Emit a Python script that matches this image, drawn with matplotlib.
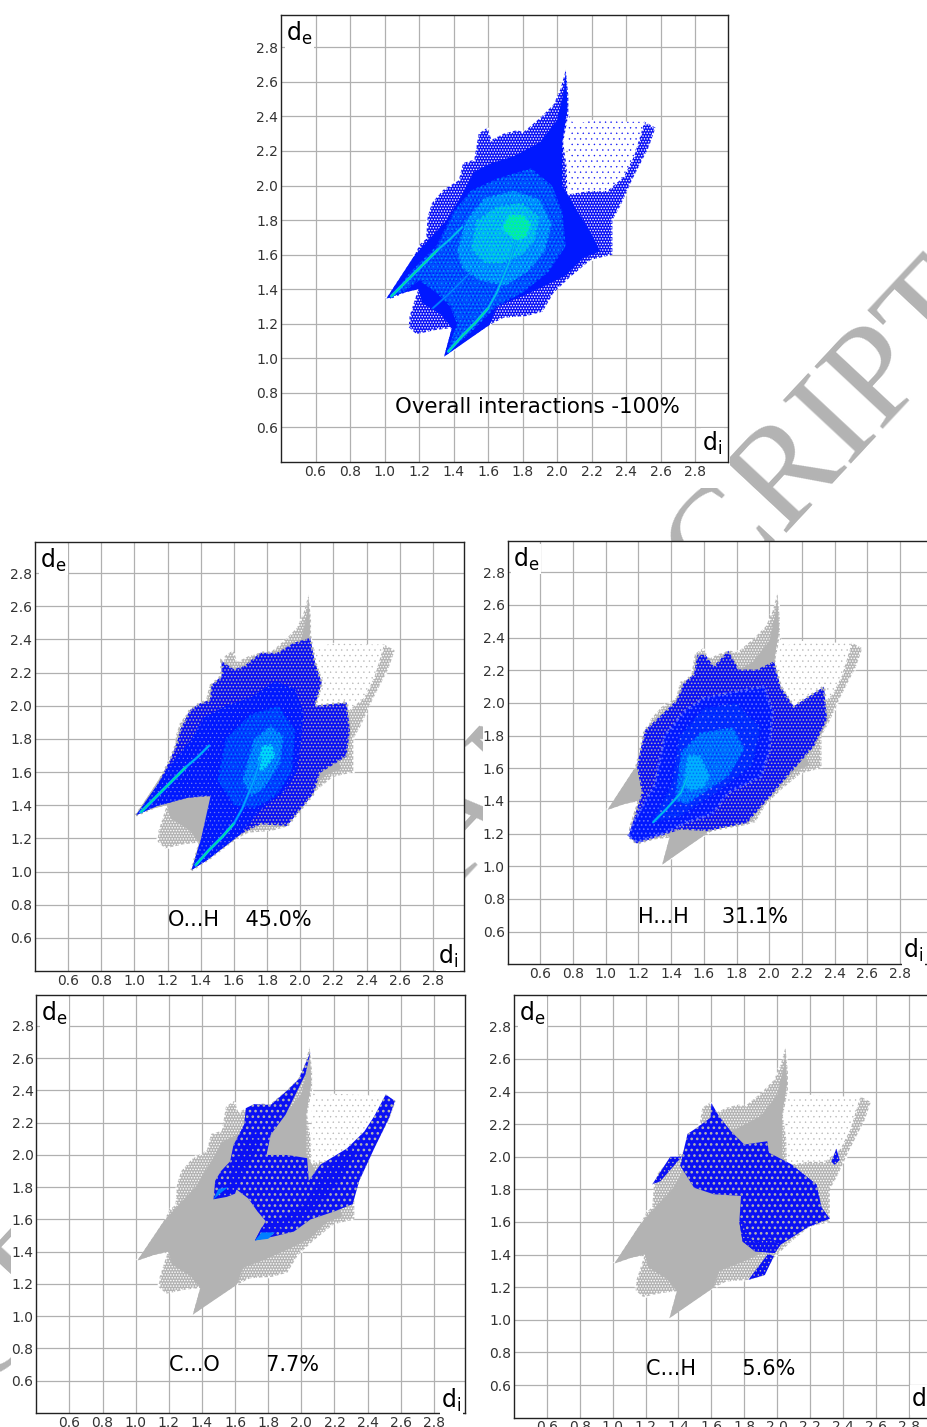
import matplotlib
matplotlib.use('Agg')
import matplotlib.pyplot as plt
from matplotlib.patches import Polygon, Rectangle

plt.rcParams['mathtext.fontset'] = 'dejavusans'
plt.rcParams['hatch.linewidth'] = 0.7

W, H = 928, 1427
GRAY = '#b3b3b3'
BLUE = '#0a10f5'

# -----------------------------
# Data: outlines (di, de)
# -----------------------------
ticks = [0.6, 0.8, 1.0, 1.2, 1.4, 1.6, 1.8, 2.0, 2.2, 2.4, 2.6, 2.8]

# whole fingerprint
env_di = [1.01, 1.17, 1.205, 1.24, 1.25, 1.275, 1.34, 1.43, 1.455, 1.52, 1.545, 1.595, 1.62, 1.69, 1.765, 1.805,
          1.90, 1.98, 2.02, 2.05, 2.065, 2.065, 2.035, 2.055, 2.06, 2.19, 2.29, 2.385, 2.445, 2.505, 2.57, 2.53,
          2.435, 2.365, 2.32, 2.32, 2.195, 2.08, 1.98, 1.915, 1.825, 1.69, 1.61, 1.455, 1.345, 1.39, 1.30, 1.185,
          1.14, 1.145, 1.195, 1.11]
env_de = [1.345, 1.59, 1.66, 1.69, 1.82, 1.90, 1.975, 2.03, 2.13, 2.15, 2.30, 2.335, 2.265, 2.30, 2.32, 2.31,
          2.39, 2.47, 2.56, 2.67, 2.52, 2.41, 2.25, 2.11, 1.95, 1.97, 1.97, 2.05, 2.17, 2.37, 2.335, 2.22,
          2.035, 1.88, 1.80, 1.60, 1.57, 1.475, 1.38, 1.27, 1.245, 1.235, 1.195, 1.09, 1.01, 1.175, 1.165, 1.14,
          1.18, 1.245, 1.40, 1.38]
core_di = [1.01, 1.17, 1.25, 1.36, 1.45, 1.52, 1.62, 1.75, 1.9, 2.0, 2.04, 2.05, 2.06, 2.03, 2.03, 2.1, 2.2,
           2.25, 2.15, 2.05, 1.93, 1.8, 1.65, 1.61, 1.345, 1.39, 1.33, 1.22, 1.195, 1.11]
core_de = [1.345, 1.59, 1.68, 1.80, 1.95, 2.08, 2.13, 2.17, 2.25, 2.38, 2.55, 2.67, 2.45, 2.25, 2.0, 1.88, 1.72,
           1.62, 1.58, 1.48, 1.42, 1.36, 1.30, 1.195, 1.01, 1.175, 1.25, 1.32, 1.40, 1.38]
# sparse part top right
gap_di = [2.065, 2.10, 2.2, 2.4, 2.505, 2.445, 2.385, 2.29, 2.19, 2.06]
gap_de = [2.41, 2.35, 2.38, 2.37, 2.37, 2.17, 2.05, 1.97, 1.97, 1.95]

# overall density levels
all_mid_di = [1.03, 1.15, 1.3, 1.4, 1.5, 1.65, 1.85, 1.97, 2.03, 2.05, 1.95, 1.8, 1.65, 1.5, 1.36, 1.42, 1.38, 1.3, 1.2, 1.12]
all_mid_de = [1.35, 1.5, 1.65, 1.85, 1.97, 2.04, 2.1, 2.0, 1.85, 1.65, 1.5, 1.38, 1.3, 1.15, 1.03, 1.2, 1.3, 1.38, 1.45, 1.39]
all_az_di = [1.42, 1.47, 1.58, 1.75, 1.9, 1.97, 1.93, 1.83, 1.7, 1.55, 1.45]
all_az_de = [1.62, 1.8, 1.93, 1.97, 1.92, 1.78, 1.62, 1.5, 1.42, 1.45, 1.52]
all_cy_di = [1.5, 1.53, 1.65, 1.8, 1.9, 1.87, 1.8, 1.68, 1.58]
all_cy_de = [1.63, 1.8, 1.88, 1.9, 1.82, 1.68, 1.6, 1.55, 1.55]
all_gr_di = [1.68, 1.72, 1.8, 1.85, 1.82, 1.76]
all_gr_de = [1.75, 1.83, 1.83, 1.78, 1.7, 1.68]

# sharp wings
wing1_di = [1.04, 1.12, 1.22, 1.31]
wing1_de = [1.36, 1.44, 1.54, 1.63]
wing1b_di = [1.31, 1.38, 1.45]
wing1b_de = [1.63, 1.69, 1.76]
wing2_di = [1.37, 1.45, 1.53, 1.6]
wing2_de = [1.04, 1.13, 1.21, 1.29]
wing2b_di = [1.6, 1.65, 1.72, 1.76]
wing2b_de = [1.29, 1.38, 1.55, 1.68]
wing3_di = [1.28, 1.38, 1.5]
wing3_de = [1.29, 1.38, 1.5]

# O...H
oh_di = [1.01, 1.135, 1.215, 1.255, 1.275, 1.335, 1.395, 1.455, 1.465, 1.525, 1.525, 1.6, 1.66, 1.76, 1.86, 1.96,
         2.06, 2.09, 2.13, 2.09, 2.28, 2.3, 2.28, 2.12, 2.08, 1.92, 1.76, 1.64, 1.44, 1.345, 1.40, 1.47, 1.32, 1.135]
oh_de = [1.34, 1.515, 1.675, 1.775, 1.855, 1.975, 2.015, 2.035, 2.125, 2.18, 2.27, 2.22, 2.24, 2.32, 2.32, 2.38,
         2.41, 2.26, 2.14, 2.0, 2.02, 1.855, 1.695, 1.595, 1.47, 1.275, 1.285, 1.225, 1.07, 1.01, 1.19, 1.455, 1.445, 1.395]
oh_core_di = [1.01, 1.135, 1.22, 1.33, 1.42, 1.55, 1.7, 1.85, 1.97, 2.02, 2.0, 1.98, 1.9, 1.82, 1.75, 1.64, 1.44, 1.345, 1.40, 1.46, 1.32, 1.135]
oh_core_de = [1.34, 1.52, 1.65, 1.78, 1.93, 2.0, 2.05, 2.15, 2.1, 1.95, 1.75, 1.6, 1.48, 1.42, 1.36, 1.225, 1.07, 1.01, 1.19, 1.46, 1.445, 1.395]
oh_mid_di = [1.5, 1.55, 1.7, 1.87, 1.97, 1.95, 1.85, 1.72, 1.6]
oh_mid_de = [1.55, 1.8, 1.95, 2.0, 1.85, 1.6, 1.45, 1.38, 1.4]
oh_az_di = [1.65, 1.72, 1.82, 1.9, 1.88, 1.78, 1.7]
oh_az_de = [1.55, 1.8, 1.88, 1.82, 1.65, 1.5, 1.45]
oh_cy_di = [1.74, 1.77, 1.83, 1.85, 1.8, 1.76]
oh_cy_de = [1.66, 1.76, 1.77, 1.7, 1.63, 1.6]

# H...H
hh_di = [1.14, 1.17, 1.22, 1.19, 1.24, 1.375, 1.435, 1.475, 1.54, 1.56, 1.61, 1.66, 1.75, 1.815, 1.925, 2.03, 2.07,
         2.15, 2.335, 2.355, 2.275, 2.13, 2.01, 1.865, 1.62, 1.455, 1.335, 1.19]
hh_de = [1.185, 1.285, 1.45, 1.615, 1.835, 1.96, 2.02, 2.12, 2.18, 2.295, 2.295, 2.225, 2.32, 2.205, 2.205, 2.255, 2.10,
         1.98, 2.1, 1.90, 1.735, 1.57, 1.43, 1.265, 1.215, 1.225, 1.185, 1.14]
hh_core_di = [1.14, 1.18, 1.3, 1.36, 1.48, 1.6, 1.8, 1.97, 2.02, 2.0, 1.95, 1.75, 1.65, 1.5, 1.35, 1.19]
hh_core_de = [1.185, 1.29, 1.5, 1.8, 1.95, 2.03, 2.07, 2.1, 1.95, 1.7, 1.55, 1.45, 1.32, 1.27, 1.2, 1.15]
hh_mid_di = [1.28, 1.4, 1.45, 1.6, 1.8, 1.95, 1.9, 1.75, 1.6, 1.45]
hh_mid_de = [1.27, 1.5, 1.8, 1.97, 2.0, 1.85, 1.62, 1.5, 1.4, 1.3]
hh_az_di = [1.42, 1.46, 1.58, 1.78, 1.85, 1.75, 1.6, 1.5]
hh_az_de = [1.4, 1.7, 1.82, 1.85, 1.72, 1.55, 1.45, 1.38]
hh_cy_di = [1.47, 1.5, 1.58, 1.64, 1.6, 1.52]
hh_cy_de = [1.5, 1.68, 1.68, 1.55, 1.48, 1.46]
hh_wing_di = [1.29, 1.37, 1.46, 1.5]
hh_wing_de = [1.27, 1.35, 1.45, 1.55]

# C...O
co_di = [1.47, 1.48, 1.515, 1.57, 1.59, 1.655, 1.665, 1.715, 1.815, 1.915, 1.985, 2.055, 2.025, 1.955, 1.905, 1.815,
         1.79, 1.915, 2.035, 2.045, 2.115, 2.275, 2.38, 2.44, 2.51, 2.565, 2.53, 2.44, 2.35, 2.31, 2.2, 2.055, 1.955,
         1.835, 1.72, 1.785, 1.735, 1.68, 1.61, 1.55]
co_de = [1.725, 1.84, 1.90, 1.96, 2.06, 2.19, 2.29, 2.315, 2.31, 2.40, 2.47, 2.635, 2.50, 2.355, 2.25, 2.125,
         2.0, 2.0, 1.98, 1.84, 1.94, 2.04, 2.145, 2.24, 2.375, 2.335, 2.23, 2.04, 1.84, 1.695, 1.65, 1.6, 1.525,
         1.495, 1.47, 1.59, 1.65, 1.73, 1.785, 1.765]
co_arm_di = [1.47, 1.55, 1.59, 1.66, 1.72, 1.75, 1.72, 1.66, 1.62, 1.6, 1.55]
co_arm_de = [1.725, 1.8, 1.95, 2.08, 2.16, 2.1, 2.0, 1.92, 1.82, 1.76, 1.74]
co_band_di = [1.72, 1.85, 2.05, 2.2, 2.33, 2.3, 2.15, 2.07, 2.0, 1.9, 1.8, 1.76]
co_band_de = [1.47, 1.53, 1.63, 1.8, 2.0, 2.05, 1.93, 1.78, 1.68, 1.62, 1.58, 1.55]
co_tip1_di = [1.47, 1.52, 1.56, 1.50]
co_tip1_de = [1.725, 1.77, 1.80, 1.79]
co_tip2_di = [1.72, 1.80, 1.84, 1.76]
co_tip2_de = [1.47, 1.48, 1.52, 1.52]

# C...H
ch_di = [1.41, 1.455, 1.515, 1.595, 1.6, 1.645, 1.72, 1.8, 1.94, 1.95, 2.085, 2.24, 2.27, 2.32, 2.19, 2.02, 1.985,
         1.865, 1.79, 1.77, 1.78, 1.615, 1.495]
ch_de = [1.945, 2.14, 2.18, 2.24, 2.33, 2.25, 2.155, 2.075, 2.095, 2.025, 1.955, 1.83, 1.69, 1.62, 1.57, 1.46, 1.41,
         1.42, 1.48, 1.6, 1.76, 1.77, 1.81]
ch_s1_di = [1.24, 1.35, 1.42, 1.29]
ch_s1_de = [1.83, 2.0, 2.0, 1.85]
ch_s2_di = [1.825, 1.945, 1.98, 1.925]
ch_s2_de = [1.245, 1.405, 1.39, 1.275]
ch_s3_di = [2.33, 2.36, 2.38, 2.35]
ch_s3_de = [1.97, 2.05, 1.98, 1.95]
ch_rim_di = [1.77, 1.79, 1.865, 1.985, 2.02, 1.95, 1.87, 1.82, 1.8]
ch_rim_de = [1.6, 1.48, 1.42, 1.41, 1.46, 1.5, 1.47, 1.52, 1.6]

# panel boxes in pixels: left, top, right, bottom
box_all = (281, 14.5, 728, 462)
box_oh = (35, 541.7, 464.4, 971)
box_hh = (507.7, 541.3, 931, 964.3)
box_co = (36.3, 995.3, 465.3, 1413)
box_ch = (514, 995.3, 940, 1417.7)

fig = plt.figure(figsize=(W / 100, H / 100), dpi=100, facecolor='white')

# -----------------------------
# Watermark behind the panels
# -----------------------------
fig.text(993 / W, 1 - 312 / H, 'ACCEPTED MANUSCRIPT', rotation=47, rotation_mode='anchor',
         ha='right', va='baseline', family='Liberation Serif', fontsize=102, color=GRAY, zorder=-3)

# white backing of each pasted panel
for x0, y0, x1, y1 in [(250, 0, 730, 488), (0, 541, 465, 995), (483, 541, 928, 995),
                       (11, 995, 466, 1427), (490, 995, 928, 1427)]:
    fig.add_artist(Rectangle((x0 / W, 1 - y1 / H), (x1 - x0) / W, (y1 - y0) / H, transform=fig.transFigure,
                             facecolor='white', edgecolor='none', zorder=-2))


def make_axes(box, label, lx, ly, di_x, di_y, size=15):
    l, t, r, b = box
    ax = fig.add_axes([l / W, 1 - b / H, (r - l) / W, (b - t) / H])
    ax.set_xlim(0.4, 2.99)
    ax.set_ylim(0.4, 2.99)
    ax.set_xticks(ticks)
    ax.set_yticks(ticks)
    ax.set_xticklabels(['%.1f' % t_ for t_ in ticks])
    ax.set_yticklabels(['%.1f' % t_ for t_ in ticks])
    ax.tick_params(length=0, labelsize=10, labelcolor='#333333', pad=2)
    ax.grid(True, color='#b0b0b0', lw=0.9)
    ax.set_axisbelow(True)
    for s in ax.spines.values():
        s.set_linewidth(1.0)
        s.set_color('#222222')
    ax.text(lx, ly, label, fontsize=size, color='black', va='center', ha='left')
    ax.text(0.43, 2.88, r'd$_{\mathrm{e}}$', fontsize=17, va='center', ha='left',
            bbox=dict(facecolor='white', edgecolor='none', pad=1))
    ax.text(di_x, di_y, r'd$_{\mathrm{i}}$', fontsize=17, va='center', ha='left',
            bbox=dict(facecolor='white', edgecolor='none', pad=1))
    return ax


def fill(ax, di, de, face, dots=None, pattern='.....', z=2):
    pts = list(zip(di, de))
    ax.add_patch(Polygon(pts, closed=True, facecolor=face, edgecolor='none', lw=0, zorder=z))
    if dots:
        # dotted edge nibbles the outline so it does not look cut with scissors
        ax.add_patch(Polygon(pts, closed=True, fill=False, edgecolor=dots, hatch=pattern,
                             lw=2.0, linestyle=(0, (0.7, 1.3)), zorder=z))


def speck(ax, di, de, color, pattern='....', z=5, dot_lw=0.7):
    p = Polygon(list(zip(di, de)), closed=True, fill=False, edgecolor=color, hatch=pattern, lw=0, zorder=z)
    p.set_hatch_linewidth(dot_lw)
    ax.add_patch(p)


def sparse(ax, color, z):
    pts = list(zip(gap_di, gap_de))
    ax.add_patch(Polygon(pts, closed=True, facecolor='white', edgecolor='none', zorder=z))
    speck(ax, gap_di, gap_de, color, '...', z, 0.25)


def gray_base(ax):
    fill(ax, env_di, env_de, GRAY, 'white', '......', 2)
    fill(ax, core_di, core_de, GRAY, z=2)
    sparse(ax, GRAY, 2)


def streak(ax, di, de, lw=2.2, outer='#00b0ff', inner='#00e890'):
    ax.plot(di, de, color=outer, lw=lw, solid_capstyle='round', zorder=6)
    ax.plot(di, de, color=inner, lw=lw * 0.4, solid_capstyle='round', zorder=7)


# -----------------------------
# Overall
# -----------------------------
ax = make_axes(box_all, 'Overall interactions -100%', 1.06, 0.72, 2.84, 0.51, 15.4)
fill(ax, env_di, env_de, BLUE, 'white', '......', 2)
fill(ax, core_di, core_de, '#0018ff', z=3)
sparse(ax, BLUE, 3)
fill(ax, all_mid_di, all_mid_de, '#0050ff', '#0018ff', '.....', 4)
speck(ax, all_mid_di, all_mid_de, '#0090ff', '....', 4)
fill(ax, all_az_di, all_az_de, '#0090ff', '#0050ff', '.....', 5)
speck(ax, all_az_di, all_az_de, '#00c8f8', '....', 5)
fill(ax, all_cy_di, all_cy_de, '#00b8f8', '#0080ff', '.....', 5)
speck(ax, all_cy_di, all_cy_de, '#00e8c0', '....', 5)
fill(ax, all_gr_di, all_gr_de, '#00f0a0', '#00c8f8', '.....', 5)
streak(ax, wing1_di, wing1_de)
streak(ax, wing1b_di, wing1b_de, 1.8, '#0090ff', '#00d0e0')
streak(ax, wing2_di, wing2_de)
streak(ax, wing2b_di, wing2b_de, 1.8, '#0090ff', '#00d0e0')
streak(ax, wing3_di, wing3_de, 1.6, '#0060ff', '#0090ff')

# -----------------------------
# O...H
# -----------------------------
ax = make_axes(box_oh, 'O...H    45.0%', 1.2, 0.708, 2.83, 0.49)
gray_base(ax)
fill(ax, oh_di, oh_de, BLUE, GRAY, '.....', 3)
fill(ax, oh_core_di, oh_core_de, '#0018ff', z=3)
speck(ax, oh_core_di, oh_core_de, '#7080f0', '....', 3, 0.4)
fill(ax, oh_mid_di, oh_mid_de, '#0040ff', '#0018ff', '.....', 4)
speck(ax, oh_mid_di, oh_mid_de, '#0080ff', '....', 4)
fill(ax, oh_az_di, oh_az_de, '#0080ff', '#0040ff', '.....', 5)
speck(ax, oh_az_di, oh_az_de, '#00b0ff', '....', 5)
fill(ax, oh_cy_di, oh_cy_de, '#00d8f8', '#0080ff', '.....', 5)
streak(ax, wing1_di, wing1_de)
streak(ax, wing1b_di, wing1b_de, 1.8, '#0090ff', '#00c0f0')
streak(ax, wing2_di, wing2_de)
streak(ax, wing2b_di, wing2b_de, 1.8, '#0080ff', '#00b0ff')

# -----------------------------
# H...H
# -----------------------------
ax = make_axes(box_hh, 'H...H     31.1%', 1.195, 0.688, 2.82, 0.484)
gray_base(ax)
fill(ax, hh_di, hh_de, BLUE, GRAY, '.....', 3)
fill(ax, hh_core_di, hh_core_de, '#0018ff', '#6070ff', '....', 3)
fill(ax, hh_mid_di, hh_mid_de, '#0030ff', '#0018ff', '.....', 4)
speck(ax, hh_mid_di, hh_mid_de, '#8090f0', '...', 4, 0.4)
fill(ax, hh_az_di, hh_az_de, '#0070ff', '#0030ff', '.....', 5)
speck(ax, hh_az_di, hh_az_de, '#00a0ff', '....', 5)
fill(ax, hh_cy_di, hh_cy_de, '#00b0ff', '#0070ff', '.....', 5)
streak(ax, hh_wing_di, hh_wing_de, 1.8, '#0090ff', '#00d0e0')

# -----------------------------
# C...O
# -----------------------------
ax = make_axes(box_co, 'C...O       7.7%', 1.2, 0.698, 2.845, 0.48)
gray_base(ax)
fill(ax, co_di, co_de, BLUE, z=3)
speck(ax, co_di, co_de, GRAY, '...', 3, 1.1)
fill(ax, co_arm_di, co_arm_de, BLUE, z=4)
fill(ax, co_band_di, co_band_de, BLUE, z=4)
speck(ax, co_arm_di, co_arm_de, GRAY, '...', 4, 0.4)
speck(ax, co_band_di, co_band_de, GRAY, '...', 4, 0.4)
fill(ax, co_tip1_di, co_tip1_de, '#0080ff', z=5)
fill(ax, co_tip2_di, co_tip2_de, '#0080ff', z=5)

# -----------------------------
# C...H
# -----------------------------
ax = make_axes(box_ch, 'C...H       5.6%', 1.2, 0.698, 2.815, 0.51)
gray_base(ax)
fill(ax, ch_di, ch_de, BLUE, z=3)
speck(ax, ch_di, ch_de, GRAY, '...', 3, 1.1)
fill(ax, ch_rim_di, ch_rim_de, BLUE, z=4)
speck(ax, ch_rim_di, ch_rim_de, GRAY, '....', 4, 0.4)
for d_i, d_e in [(ch_s1_di, ch_s1_de), (ch_s2_di, ch_s2_de), (ch_s3_di, ch_s3_de)]:
    fill(ax, d_i, d_e, BLUE, z=4)
    speck(ax, d_i, d_e, GRAY, '....', 4, 0.5)

fig.savefig('out.png', dpi=100)
